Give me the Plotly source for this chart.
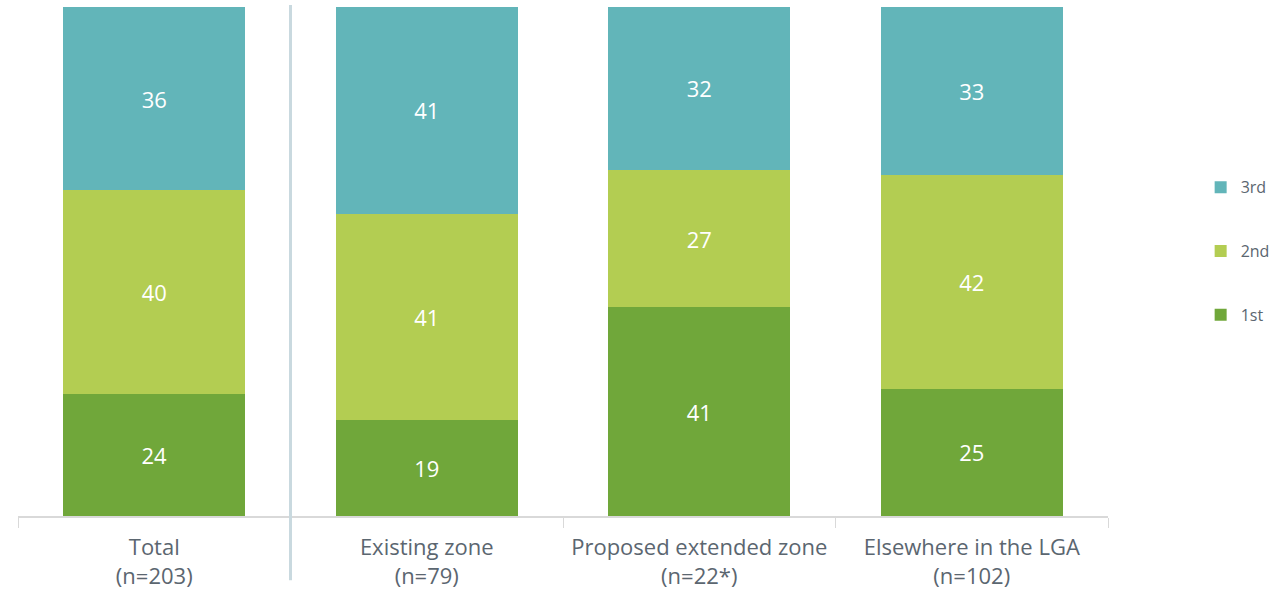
import plotly.graph_objects as go

# Share of respondents by preference rank, per area
categories = ["Total<br>(n=203)", "Existing zone<br>(n=79)",
              "Proposed extended zone<br>(n=22*)", "Elsewhere in the LGA<br>(n=102)"]
first = [24, 19, 41, 25]
second = [40, 41, 27, 42]
third = [36, 41, 32, 33]

series = [("1st", first, "#70a73a", 3), ("2nd", second, "#b3cd52", 2), ("3rd", third, "#62b5b9", 1)]

TEXT_GREY = "#5b6670"

fig = go.Figure()
for name, vals, color, rank in series:
    fig.add_trace(go.Bar(
        x=categories, y=vals, name=name, marker=dict(color=color, line=dict(width=0)),
        text=[str(v) for v in vals], textposition="inside", insidetextanchor="middle",
        textfont=dict(color="white", size=22, family="Open Sans"),
        legendgroup=name, legendrank=rank,
    ))

fig.update_layout(
    barmode="stack", barnorm="percent", bargap=0.332,
    width=1272, height=589,
    margin=dict(l=18, r=164, t=7, b=73, autoexpand=False),
    plot_bgcolor="white", paper_bgcolor="white",
    font=dict(family="Open Sans", color=TEXT_GREY),
    showlegend=True,
    legend=dict(traceorder="grouped", x=1.085, xanchor="left", y=0.52, yanchor="middle",
                font=dict(size=16, color=TEXT_GREY), tracegroupgap=40,
                itemwidth=30),
    uniformtext=dict(minsize=22, mode="show"),
)
fig.update_xaxes(
    showline=True, linecolor="#d9d9d9", linewidth=1.5,
    ticks="outside", tickson="boundaries", ticklen=10, tickcolor="#d9d9d9",
    tickfont=dict(size=22, color=TEXT_GREY, family="Open Sans"),
    ticklabelstandoff=11,
    showgrid=False, range=[-0.5, 3.5],
)
fig.update_yaxes(visible=False, range=[0, 100], showgrid=False)

# Vertical divider between the total and the area breakdown
fig.add_shape(type="line", xref="x", yref="paper", x0=0.5, x1=0.5, y0=1.004, y1=-0.126,
              line=dict(color="#c9d9df", width=3))

fig.write_html("out.html")
